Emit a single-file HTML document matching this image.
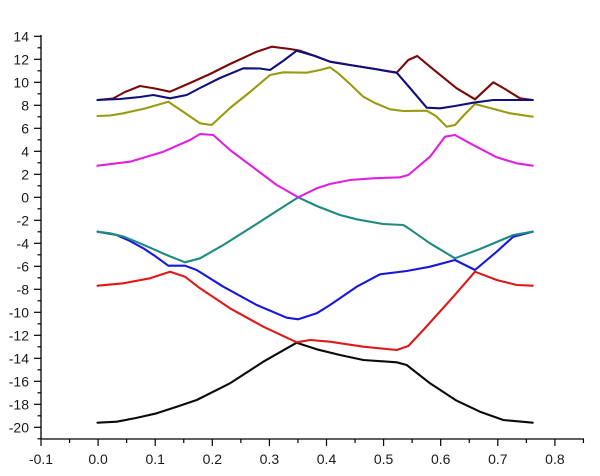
<!DOCTYPE html>
<html>
<head>
<meta charset="utf-8">
<style>
html,body{margin:0;padding:0;background:#fff;}
svg{display:block;}
text{font-family:"Liberation Sans",Arial,sans-serif;font-size:14px;fill:#1a1a1a;}
</style>
</head>
<body>
<svg width="600" height="476" viewBox="0 0 600 476" xmlns="http://www.w3.org/2000/svg">
<g stroke="#000" stroke-width="1.3" fill="none">
  <line x1="41" y1="35" x2="41" y2="439"/>
  <line x1="41" y1="439" x2="584" y2="439"/>
</g>
<g id="yt" stroke="#000" stroke-width="1.2"></g>
<g id="xt" stroke="#000" stroke-width="1.2"></g>
<g id="yl" text-anchor="end"></g>
<g id="xl" text-anchor="middle"></g>

<g fill="none" stroke-width="2.1" stroke-linejoin="round" stroke-linecap="round">
<polyline stroke="#0a0a0a" points="97.5,422.7 116.7,421.7 136,418 156.7,413.3 176,407 196.7,400 230,383.3 263.3,361.7 296.7,342.7 316.7,349.3 340,355 363.3,360 396.7,362.3 406.7,365 430,383.3 456.7,400.7 480,411.7 503.3,420 532.7,422.7"/>
<polyline stroke="#e01818" points="97.5,285.7 123.3,283.3 150,278.3 170,271.7 185,276.7 200,288.3 230,308.3 263.3,326.7 296.7,342.3 310,340 330,341.7 363.3,346.7 396.7,350 408.3,346 423.3,330 453.3,296.7 475,271.7 496.7,280 516.7,285 532.7,285.7"/>
<polyline stroke="#1818d8" points="97.5,231.7 116.7,235 130,241 143.3,248.3 155,256 168.3,265.7 185,265.7 196.7,270 223.3,286.7 256.7,305 286.7,317.7 298.3,319.3 316.7,313.3 330,305 356.7,286.7 380,274.3 406.7,271 430,266.7 455,260 475,270 496.7,251.7 513.3,236.7 532.7,231.7"/>
<polyline stroke="#1f8a80" points="97.5,231.7 110,233.3 123.3,236.5 140,243.3 166.7,255 185,262.3 200,258.3 223.3,245 255,225 276.7,211 298.3,197.3 316.7,206 340,215 356.7,219.3 383.3,224 403.3,225 410,229.3 430,243.3 455,258.3 480,249 513.3,235 532.7,231.7"/>
<polyline stroke="#e020e0" points="97.5,165.7 130,161.7 163.3,151.7 190,140 200,134 213.3,135 230,150 256.7,170 276.7,185 298.3,197.3 316.7,188.3 330,184 350,180 373.3,178.3 400,177.3 408.3,175 430,156.7 445,136.7 455,135 470,143.3 496.7,157.3 516.7,163.3 532.7,165.7"/>
<polyline stroke="#9a9a10" points="97.5,116 110,115.5 123.3,113.3 145,108.5 168.3,101.7 185,113 200,123.3 211.7,125 230,108 250,92 270,75 283.3,72.3 306.7,72.7 320,70 330,67.3 338.3,73.3 350,84 363.3,96.7 375,103 390,109.3 403.3,111 426.7,110.7 436,116 446.7,126.7 455,125 465,114 475,104 490,108 510,113.3 532.7,116.7"/>
<polyline stroke="#7a0a0a" points="97.5,100 113,98.5 125,92 140,86 155,88.5 170,91.7 190,83 210,74 230,64 256.7,51.7 271.7,46.7 290,49 300,50.7 315,56 330,61.7 350,65 375,69 396.7,72.7 408.3,60 417.3,56 430,66.7 456.7,88.3 475,99.3 493.3,82.3 505,89 520,98.3 532.7,100"/>
<polyline stroke="#10107a" points="97.5,100 120,99 140,97 153.3,95 170,98.3 186.7,95 200,88 220,78 243.3,68.3 260,68.5 270,70 283,61 296.7,50.7 315,56 330,61.7 350,65 375,69 396.7,72.7 410,88 426.7,107.7 440,108.3 455,106 473.3,102.7 493.3,100 532.7,100"/>
</g>

<script>
(function(){
  var ns="http://www.w3.org/2000/svg";
  function Y(v){return 197.3-11.5*v;}
  function X(v){return 41+571*(v+0.1);}
  var yt=document.getElementById('yt'),xt=document.getElementById('xt'),
      yl=document.getElementById('yl'),xl=document.getElementById('xl');
  function line(g,x1,y1,x2,y2){var l=document.createElementNS(ns,'line');
    l.setAttribute('x1',x1);l.setAttribute('y1',y1);l.setAttribute('x2',x2);l.setAttribute('y2',y2);g.appendChild(l);}
  function text(g,x,y,s){var t=document.createElementNS(ns,'text');
    t.setAttribute('x',x);t.setAttribute('y',y);t.textContent=s;g.appendChild(t);}
  for(var v=-21;v<=14;v++){
    var y=Y(v);
    if(v%2===0){line(yt,34,y,41,y);text(yl,29,y+5,String(v));}
    else line(yt,37.5,y,41,y);
  }
  for(var k=0;k<=19;k++){
    var xv=-0.1+k*0.05, x=X(xv);
    if(k%2===0){line(xt,x,439,x,446);text(xl,x,464,(Math.round(xv*10)/10).toFixed(1));}
    else line(xt,x,439,x,443);
  }
})();
</script>
</svg>
</body>
</html>
